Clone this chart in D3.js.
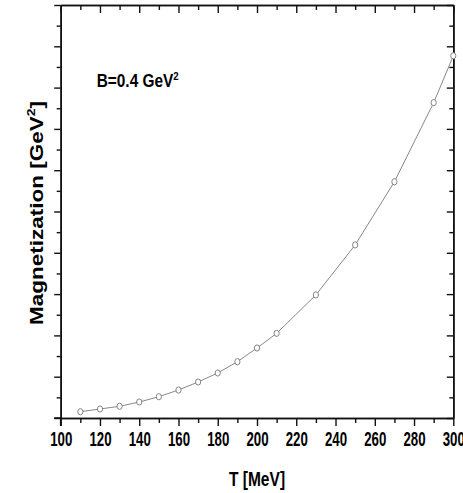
<!DOCTYPE html>
<html><head><meta charset="utf-8">
<script src="https://cdn.jsdelivr.net/npm/d3@7"></script>
<style>body{margin:0;background:#fff} svg{display:block}</style></head>
<body>
<svg id="chart" width="463" height="493"></svg>
<script>
// ---- data ----
const temperature = [110, 120, 130, 140, 150, 160, 170, 180, 190, 200, 210, 230, 250, 270, 290, 300];
const magnetization = [0.305, 0.436, 0.567, 0.775, 1.03, 1.356, 1.743, 2.18, 2.726, 3.39, 4.10, 5.96, 8.38, 11.44, 15.27, 17.54];
const xMajorTicks = [100, 120, 140, 160, 180, 200, 220, 240, 260, 280, 300];
const xMinorTicks = [110, 130, 150, 170, 190, 210, 230, 250, 270, 290];
const yMajorTicks = [0, 2, 4, 6, 8, 10, 12, 14, 16, 18, 20];
const yMinorTicks = [1, 3, 5, 7, 9, 11, 13, 15, 17, 19];
const xTitle = "T [MeV]";
const yTitle = "Magnetization [GeV";
const annotation = "B=0.4 GeV";

const svg = d3.select("#chart");
const L = 60.7, R = 453.3, T = 5, B = 418;
const x = d3.scaleLinear().domain([100, 300]).range([L, R]);
const y = d3.scaleLinear().domain([0, 20]).range([B, T]);
const FONT = "'Liberation Sans', Arial, sans-serif";

function styleAxis(g) {
  g.select(".domain").attr("stroke", "#111").attr("stroke-width", 1.6);
  g.selectAll(".tick line").attr("stroke", "#111").attr("stroke-width", 1.4);
}

// bottom axis (outward ticks)
const gb = svg.append("g").attr("transform", `translate(0,${B})`);
gb.call(d3.axisBottom(x).tickValues(xMajorTicks).tickSize(8).tickSizeOuter(0).tickPadding(5.7).tickFormat(d3.format("d")));
gb.selectAll(".tick text").attr("font-family", FONT).attr("font-weight", "bold")
  .attr("font-size", "19.5px").attr("fill", "#000").attr("transform", "scale(0.68,1)");
gb.call(styleAxis);
const gbm = svg.append("g").attr("transform", `translate(0,${B})`);
gbm.call(d3.axisBottom(x).tickValues(xMinorTicks).tickSize(5).tickSizeOuter(0).tickFormat(""));
gbm.call(styleAxis);

// top axis (inward ticks)
const gt = svg.append("g").attr("transform", `translate(0,${T})`);
gt.call(d3.axisBottom(x).tickValues(xMajorTicks).tickSize(8).tickSizeOuter(0).tickFormat(""));
gt.call(styleAxis);
const gtm = svg.append("g").attr("transform", `translate(0,${T})`);
gtm.call(d3.axisBottom(x).tickValues(xMinorTicks).tickSize(5).tickSizeOuter(0).tickFormat(""));
gtm.call(styleAxis);

// left axis (outward ticks)
const gl = svg.append("g").attr("transform", `translate(${L},0)`);
gl.call(d3.axisLeft(y).tickValues(yMajorTicks).tickSize(6.5).tickSizeOuter(0).tickFormat(""));
gl.call(styleAxis);
const glm = svg.append("g").attr("transform", `translate(${L},0)`);
glm.call(d3.axisLeft(y).tickValues(yMinorTicks).tickSize(4).tickSizeOuter(0).tickFormat(""));
glm.call(styleAxis);

// right axis (inward ticks)
const gr = svg.append("g").attr("transform", `translate(${R},0)`);
gr.call(d3.axisLeft(y).tickValues(yMajorTicks).tickSize(6.5).tickSizeOuter(0).tickFormat(""));
gr.call(styleAxis);
const grm = svg.append("g").attr("transform", `translate(${R},0)`);
grm.call(d3.axisLeft(y).tickValues(yMinorTicks).tickSize(4).tickSizeOuter(0).tickFormat(""));
grm.call(styleAxis);

// extend left axis below bottom & bottom axis left of left (Origin style corner)
svg.append("line").attr("x1", L).attr("x2", L).attr("y1", B).attr("y2", B + 8).attr("stroke", "#111").attr("stroke-width", 1.6);
svg.append("line").attr("x1", L - 6.5).attr("x2", L).attr("y1", B).attr("y2", B).attr("stroke", "#111").attr("stroke-width", 1.6);

// data line
const data = temperature.map((t, i) => ({ t, m: magnetization[i] }));
svg.append("path").datum(data)
  .attr("d", d3.line().x(d => x(d.t)).y(d => y(d.m)))
  .attr("fill", "none").attr("stroke", "#7a7a7a").attr("stroke-width", 0.9);

svg.append("g").selectAll("ellipse").data(data).join("ellipse")
  .attr("cx", d => x(d.t)).attr("cy", d => y(d.m))
  .attr("rx", 2.6).attr("ry", 3.1)
  .attr("fill", "#fff").attr("stroke", "#777").attr("stroke-width", 0.9);

// x title
svg.append("text").attr("transform", `translate(${(L + R) / 2},486) scale(0.74,1)`)
  .attr("text-anchor", "middle").attr("font-family", FONT).attr("font-weight", "bold")
  .attr("font-size", "21px").text(xTitle);

// y title
const yt = svg.append("text").attr("transform", `translate(42.5,213) scale(0.8,1) rotate(-90)`)
  .attr("text-anchor", "middle").attr("font-family", FONT).attr("font-weight", "bold")
  .attr("font-size", "22.5px");
yt.append("tspan").text(yTitle);
yt.append("tspan").attr("font-size", "14px").attr("dy", "-9").text("2");
yt.append("tspan").attr("dy", "9").text("]");

// annotation
const an = svg.append("text").attr("transform", `translate(96.7,86.5) scale(0.88,1)`)
  .attr("font-family", FONT).attr("font-weight", "bold").attr("font-size", "17.5px");
an.append("tspan").text(annotation);
an.append("tspan").attr("font-size", "11px").attr("dy", "-7").text("2");
</script>
</body></html>
